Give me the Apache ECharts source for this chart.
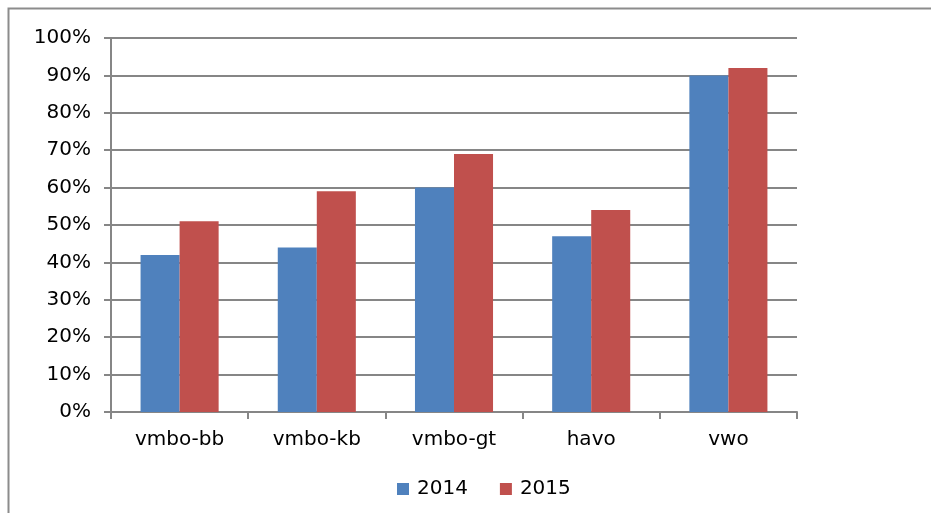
<!DOCTYPE html>
<html>
<head>
<meta charset="utf-8">
<script src="https://cdn.jsdelivr.net/npm/echarts@6/dist/echarts.min.js"></script>
<style>html,body{margin:0;padding:0;background:#fff}#c{width:931px;height:513px}</style>
</head>
<body>
<div id="c"></div>
<script>
var categories = ['vmbo-bb', 'vmbo-kb', 'vmbo-gt', 'havo', 'vwo'];
var series2014 = [42, 44, 60, 47, 90];
var series2015 = [51, 59, 69, 54, 92];
var seriesNames = ['2014', '2015'];

var chart = echarts.init(document.getElementById('c'));
var font = 'Verdana, "DejaVu Sans", sans-serif';
chart.setOption({
  animation: false,
  backgroundColor: '#fff',
  graphic: [{
    type: 'rect', shape: {x: 8.5, y: 8.5, width: 1000, height: 600},
    style: {fill: 'none', stroke: '#8c8c8c', lineWidth: 2}, silent: true
  }],
  grid: {left: 111, right: 134, top: 38, bottom: 101, containLabel: false},
  legend: {
    data: seriesNames, top: 474, left: 392,
    itemWidth: 12, itemHeight: 12, itemGap: 32, icon: 'rect',
    textStyle: {fontFamily: font, fontSize: 20, color: '#000', padding: [0, 0, 0, 3]}
  },
  xAxis: {
    type: 'category', data: categories,
    axisLine: {lineStyle: {color: '#868686', width: 2}},
    axisTick: {show: true, length: 7, lineStyle: {color: '#868686', width: 2}},
    axisLabel: {fontFamily: font, fontSize: 20, color: '#000', margin: 18}
  },
  yAxis: {
    type: 'value', min: 0, max: 100, interval: 10,
    axisLine: {show: true, lineStyle: {color: '#868686', width: 2}},
    axisTick: {show: true, length: 7, lineStyle: {color: '#868686', width: 2}},
    splitLine: {lineStyle: {color: '#868686', width: 2}},
    axisLabel: {fontFamily: font, fontSize: 20, color: '#000', margin: 20, formatter: '{value}%'}
  },
  series: [
    {name: seriesNames[0], type: 'bar', data: series2014, barGap: '0%', barCategoryGap: '43.1%',
     itemStyle: {color: '#4F81BD'}},
    {name: seriesNames[1], type: 'bar', data: series2015, barGap: '0%', barCategoryGap: '43.1%',
     itemStyle: {color: '#C0504D'}}
  ]
});
</script>
</body>
</html>
